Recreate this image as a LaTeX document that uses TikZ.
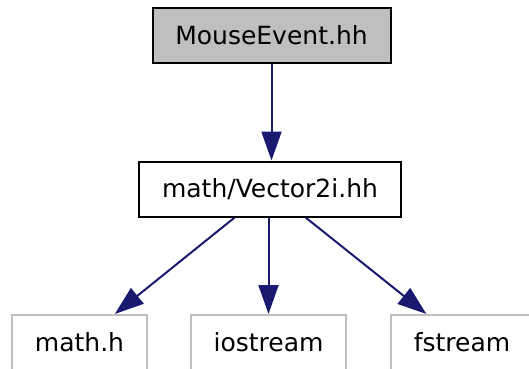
\documentclass[tikz,border=0pt]{standalone}
\usepackage{fontspec}
\setmainfont{DejaVu Sans}
\usetikzlibrary{arrows.meta}
\definecolor{navy}{HTML}{191970}
\definecolor{lgray}{HTML}{BFBFBF}
\tikzset{
  filebox/.style={draw=black, line width=2pt, minimum height=55pt, inner sep=0pt, font=\fontsize{25}{30}\selectfont, anchor=center},
  extbox/.style={filebox, draw=lgray},
  dep/.style={draw=navy, line width=2pt, -{Triangle[length=29pt,width=20pt]}, fill=navy},
}
\begin{document}
\begin{tikzpicture}[x=1pt,y=1pt]
\useasboundingbox (0,0) rectangle (529,-368);
\node[filebox, fill=lgray, minimum width=238pt] (me) at (271.5,-35) {MouseEvent.hh};
\node[filebox, fill=white, minimum width=262pt] (v2) at (270,-189) {math/Vector2i.hh};
\node[extbox, minimum width=135pt] (mh) at (79.5,-342.5) {math.h};
\node[extbox, minimum width=155pt] (io) at (268.5,-342.5) {iostream};
\node[extbox, minimum width=142pt] (fs) at (462,-342.5) {fstream};
\draw[dep] (me.south) -- (me.south |- v2.north);
\draw[dep] (v2) -- (mh);
\draw[dep] (io.north |- v2.south) -- (io.north);
\draw[dep] (v2) -- (fs);
\end{tikzpicture}
\end{document}
